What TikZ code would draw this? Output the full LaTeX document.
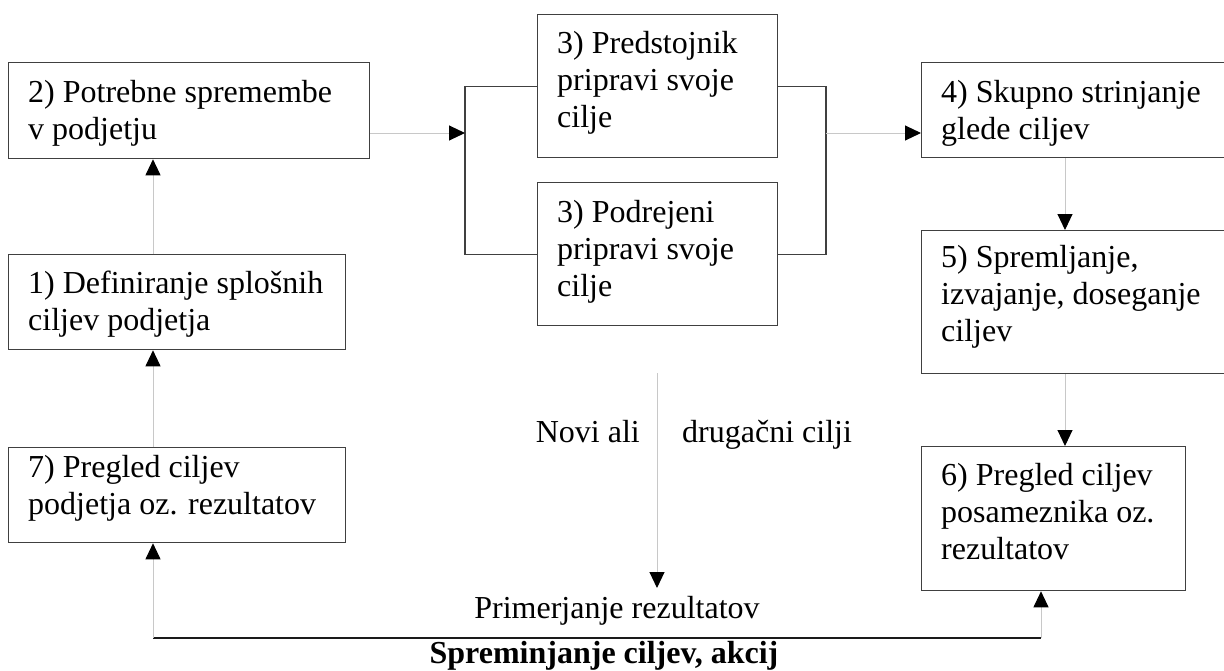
\documentclass[tikz,border=0pt]{standalone}
\usepackage{fontspec}
\setmainfont{Liberation Serif}
\usetikzlibrary{arrows.meta}
\definecolor{boxline}{HTML}{404040}
\definecolor{connline}{HTML}{C8C8C8}
\definecolor{railline}{HTML}{1A1A1A}
\newcommand\boxlines[1]{\parbox[t]{400pt}{\raggedright #1}}
\begin{document}
\begin{tikzpicture}[x=1pt,y=-1pt,
  box/.style={draw=boxline, line width=1.3pt, inner sep=0pt, anchor=north west},
  boxtext/.style={anchor=base west, inner sep=0pt, font=\fontsize{32}{37}\selectfont},
  lbl/.style={inner sep=0pt, font=\fontsize{32}{37}\selectfont},
  conn/.style={draw=connline, line width=1pt, -{Triangle[length=16pt,width=15pt,color=black]}},
  bracket/.style={draw=boxline, line width=1.3pt},
  rail/.style={draw=railline, line width=1.8pt}]
\useasboundingbox (0,0) rectangle (1224,670);

% boxes
\node[box, minimum width=361pt, minimum height=96pt] (b2) at (8,62) {};
\node[box, minimum width=240pt, minimum height=143pt] (b3a) at (537,14) {};
\node[box, minimum width=240pt, minimum height=143pt] (b3b) at (537,182) {};
\node[box, minimum width=310pt, minimum height=95pt] (b4) at (921,62) {};
\node[box, minimum width=310pt, minimum height=143pt] (b5) at (921,230) {};
\node[box, minimum width=264pt, minimum height=144pt] (b6) at (921,446) {};
\node[box, minimum width=337pt, minimum height=95pt] (b1) at (8,254) {};
\node[box, minimum width=337pt, minimum height=95pt] (b7) at (8,447) {};

% box texts
\node[boxtext] (t2) at (28,102) {\boxlines{2) Potrebne spremembe\\v podjetju}};
\node[boxtext] (t3a) at (557,53) {\boxlines{3) Predstojnik\\pripravi svoje\\cilje}};
\node[boxtext] (t3b) at (557,222) {\boxlines{3) Podrejeni\\pripravi svoje\\cilje}};
\node[boxtext] (t4) at (941,102) {\boxlines{4) Skupno strinjanje\\glede ciljev}};
\node[boxtext] (t5) at (941,267) {\boxlines{5) Spremljanje,\\izvajanje, doseganje\\ciljev}};
\node[boxtext] (t6) at (941,485) {\boxlines{6) Pregled ciljev\\posameznika oz.\\rezultatov}};
\node[boxtext] (t1) at (28,293) {\boxlines{1) Definiranje splošnih\\ciljev podjetja}};
\node[boxtext] (t7) at (28,477) {\boxlines{7) Pregled ciljev\\podjetja oz. rezultatov}};

% helper columns and rows
\coordinate (jl) at (465,0);
\coordinate (jr) at (826,0);
\coordinate (row) at (0,133);
\coordinate (colR) at (1065,0);
\coordinate (railL) at (153,638);
\coordinate (railR) at (1041,638);
\coordinate (ctop) at (657,373);
\coordinate (cbot) at (657,588);

% parallel step 3
\draw[bracket] (b3a.west) -- (b3a.west -| jl) -- (b3b.west -| jl) -- (b3b.west);
\draw[bracket] (b3a.east) -- (b3a.east -| jr) -- (b3b.east -| jr) -- (b3b.east);
\draw[conn] (b2.east |- row) -- (jl |- row);
\draw[conn] (jr |- row) -- (b4.west |- row);

% right column
\draw[conn] (b4.south -| colR) -- (b5.north -| colR);
\draw[conn] (b5.south -| colR) -- (b6.north -| colR);

% left column
\draw[conn] (b7.north -| railL) -- (b1.south -| railL);
\draw[conn] (b1.north -| railL) -- (b2.south -| railL);

% feedback rail
\draw[rail] (railL) -- (railR);
\draw[conn] (railL) -- (railL |- b7.south);
\draw[conn] (railR) -- (railR |- b6.south);

% central flow
\draw[conn] (ctop) -- (cbot);
\node[lbl, anchor=base east] (novi) at (640,442) {Novi ali};
\node[lbl, anchor=base west] (drug) at (682,442) {drugačni cilji};
\node[lbl, anchor=base] (prim) at (617,618) {Primerjanje rezultatov};
\node[lbl, anchor=base, font=\fontsize{32}{37}\selectfont\bfseries] (spr) at (604,663) {Spreminjanje ciljev, akcij};
\end{tikzpicture}
\end{document}
